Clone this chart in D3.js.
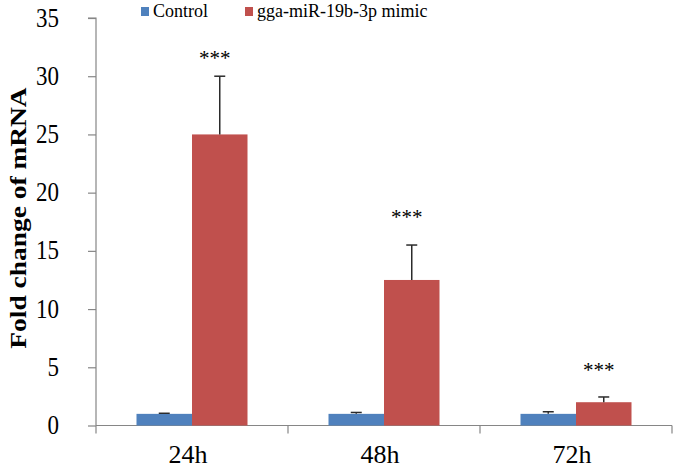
<!DOCTYPE html>
<html>
<head>
<meta charset="utf-8">
<script src="https://cdn.jsdelivr.net/npm/d3@7"></script>
<style>
  html, body { margin: 0; padding: 0; background: #fff; }
  svg { display: block; }
  svg text { font-family: "Liberation Serif", "Times New Roman", serif; fill: #000; }
</style>
</head>
<body>
<svg id="chart" width="675" height="467"></svg>
<script>
// ---- data ----
const categories = ["24h", "48h", "72h"];
const seriesNames = ["Control", "gga-miR-19b-3p mimic"];
const controlValues = [1.0, 1.0, 1.0];
const controlErrors = [0.05, 0.12, 0.18];
const mimicValues = [25.0, 12.5, 2.0];
const mimicErrors = [5.0, 3.0, 0.45];
const significance = ["***", "***", "***"];
const significancePos = [31.8, 18.2, 5.0];
const yTicks = [0, 5, 10, 15, 20, 25, 30, 35];
const colors = ["#4F81BD", "#C0504D"];

// ---- layout ----
const FONT = "'Liberation Serif', 'Times New Roman', serif";
const svg = d3.select("#chart");
const x0 = 96, x1 = 672, yTop = 18, yBot = 425.5;

const x = d3.scaleBand().domain(categories).range([x0, x1]).padding(0);
const groupW = 111;
const xs = d3.scaleBand().domain(seriesNames).range([0, groupW]).padding(0);
const y = d3.scaleLinear().domain([0, 35]).range([yBot, yTop]);

const axisColor = "#868686";

// y axis
const yAxis = d3.axisLeft(y).tickValues(yTicks).tickSize(8).tickFormat(d3.format("d"));
const gy = svg.append("g").attr("transform", `translate(${x0},0)`).call(yAxis);
gy.attr("font-family", FONT);
gy.select(".domain").attr("stroke", axisColor).attr("stroke-width", 1.2).attr("d", `M-8,${y(35)}H0V${yBot}`);
gy.selectAll(".tick line").attr("stroke", axisColor).attr("stroke-width", 1.2);
gy.selectAll(".tick text").remove();
gy.selectAll(".tick").append("text")
  .attr("text-anchor", "end")
  .attr("font-family", FONT)
  .attr("transform", "translate(-37,8) scale(1,1.18)")
  .style("font-size", "23px")
  .text(d => d);

// x axis
const xAxis = d3.axisBottom(x).tickSize(0).tickFormat(d => d);
const gx = svg.append("g").attr("transform", `translate(0,${yBot})`).call(xAxis);
gx.attr("font-family", FONT);
gx.select(".domain").attr("stroke", axisColor).attr("stroke-width", 1.2).attr("d", `M${x0},0H${x1}`);
gx.selectAll(".tick text").remove();
gx.selectAll(".tick").append("text")
  .attr("text-anchor", "middle")
  .attr("font-family", FONT)
  .attr("x", -4)
  .attr("y", 37)
  .style("font-size", "26px")
  .text(d => d);
// category boundary tick marks
const bounds = categories.map(c => x(c)).concat([x1]);
gx.selectAll("line.bound").data(bounds).enter().append("line")
  .attr("class", "bound")
  .attr("x1", d => d).attr("x2", d => d)
  .attr("y1", 0).attr("y2", 8)
  .attr("stroke", axisColor).attr("stroke-width", 1.2);

// bars
const rows = categories.map((c, i) => ({
  cat: c,
  items: [
    { s: seriesNames[0], v: controlValues[i], e: controlErrors[i], col: colors[0] },
    { s: seriesNames[1], v: mimicValues[i], e: mimicErrors[i], col: colors[1] }
  ]
}));
const off = (x.bandwidth() - groupW) / 2;
const groups = svg.append("g").selectAll("g").data(rows).enter().append("g")
  .attr("transform", d => `translate(${x(d.cat) + off},0)`);

groups.selectAll("rect").data(d => d.items).enter().append("rect")
  .attr("x", d => xs(d.s))
  .attr("width", xs.bandwidth())
  .attr("y", d => y(d.v))
  .attr("height", d => yBot - y(d.v))
  .attr("fill", d => d.col);

// error bars (upper only)
const eb = groups.selectAll("g.err").data(d => d.items).enter().append("g").attr("class", "err");
eb.append("line")
  .attr("x1", d => xs(d.s) + xs.bandwidth() / 2)
  .attr("x2", d => xs(d.s) + xs.bandwidth() / 2)
  .attr("y1", d => y(d.v))
  .attr("y2", d => y(d.v + d.e))
  .attr("stroke", "#2b2b2b").attr("stroke-width", 1.5);
eb.append("line")
  .attr("x1", d => xs(d.s) + xs.bandwidth() / 2 - 5.5)
  .attr("x2", d => xs(d.s) + xs.bandwidth() / 2 + 5.5)
  .attr("y1", d => y(d.v + d.e))
  .attr("y2", d => y(d.v + d.e))
  .attr("stroke", "#2b2b2b").attr("stroke-width", 1.5);

// significance marks
svg.append("g").selectAll("text").data(categories).enter().append("text")
  .attr("text-anchor", "middle")
  .attr("font-family", FONT)
  .attr("x", (d) => x(d) + off + xs(seriesNames[1]) + xs.bandwidth() / 2 - 5)
  .attr("y", (d, i) => y(significancePos[i]) + 10)
  .style("font-size", "21px")
  .text((d, i) => significance[i]);

// y title
svg.append("text")
  .attr("transform", "translate(26,218) scale(1,1.22) rotate(-90)")
  .attr("text-anchor", "middle")
  .attr("font-family", FONT)
  .style("font-size", "22.5px")
  .style("font-weight", "bold")
  .text("Fold change of mRNA");

// legend
const legX = [141, 245];
const leg = svg.append("g").selectAll("g").data(seriesNames).enter().append("g")
  .attr("transform", (d, i) => `translate(${legX[i]},0)`);
leg.append("rect").attr("x", 0).attr("y", 7).attr("width", 8).attr("height", 9)
  .attr("fill", (d, i) => colors[i]);
leg.append("text").attr("x", 12).attr("y", 16.5)
  .attr("font-family", FONT)
  .style("font-size", "18px")
  .text(d => d);
</script>
</body>
</html>
